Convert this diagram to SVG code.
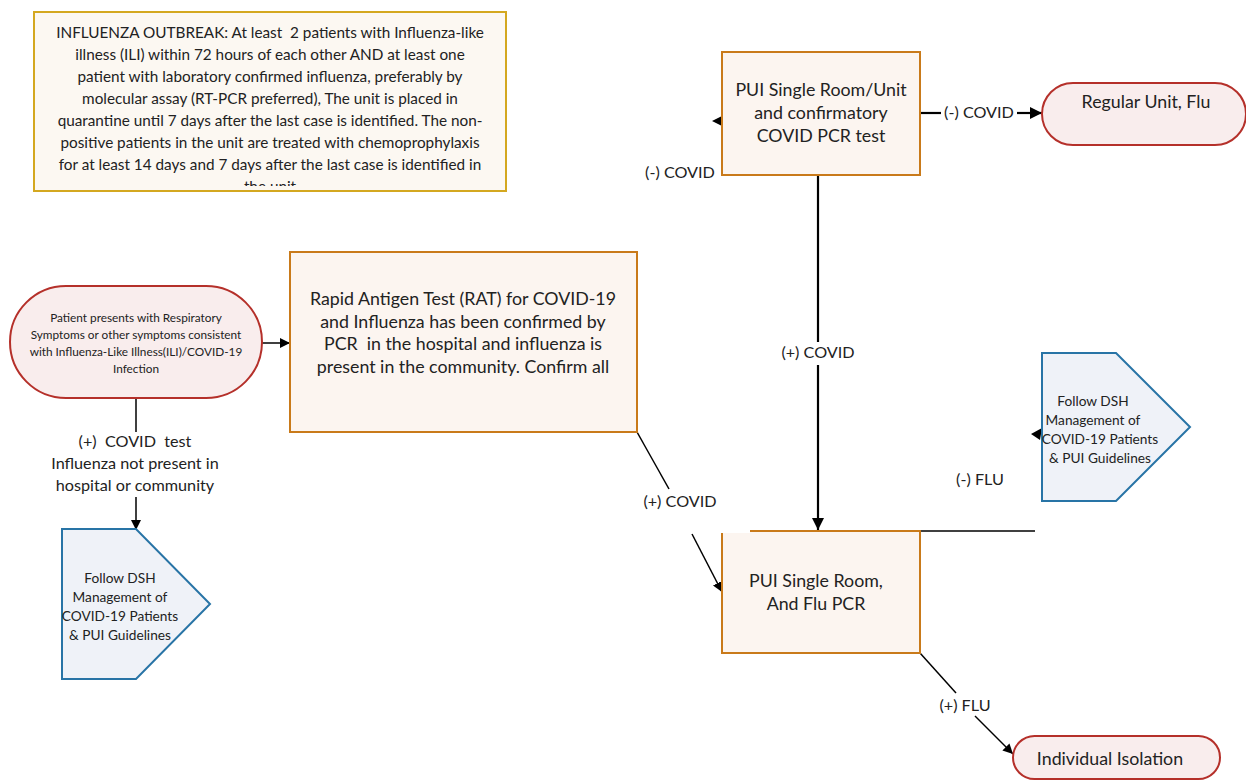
<svg xmlns="http://www.w3.org/2000/svg" width="1246" height="781" viewBox="0 0 1246 781">
<style>
text{font-family:Lato,"Liberation Sans",sans-serif;fill:#222;text-anchor:middle}
.box{fill:#fcf5f0;stroke:#c97a1a;stroke-width:2}
.term{fill:#f9eded;stroke:#b5302a;stroke-width:2}
.pent{fill:#eff2f8;stroke:#2874a6;stroke-width:2}
.note{fill:#fcf8f2;stroke:#d4a820;stroke-width:2}
.ln{stroke:#000;stroke-width:1.5;fill:none}
.lnb{stroke:#000;stroke-width:2.2;fill:none}
.t16{font-size:17.8px}.t15{font-size:16.2px}.t14{font-size:15.3px}.t13{font-size:13.7px}.t11{font-size:11.8px}
</style>
<defs>
<marker id="ah" viewBox="0 0 10 10" refX="10" refY="5" markerWidth="10" markerHeight="10" markerUnits="userSpaceOnUse" orient="auto"><path d="M0,0L10,5L0,10z" fill="#000"/></marker>
<marker id="ahb" viewBox="0 0 10 10" refX="10" refY="5" markerWidth="12" markerHeight="12" markerUnits="userSpaceOnUse" orient="auto"><path d="M0,0L10,5L0,10z" fill="#000"/></marker>
<clipPath id="nclip"><rect x="34" y="12" width="472" height="174"/></clipPath>
</defs>

<g id="connectors">
<line class="ln" x1="262" y1="343" x2="290" y2="343" marker-end="url(#ah)"/>
<line class="ln" x1="136" y1="398" x2="136" y2="432"/>
<line class="ln" x1="136" y1="497" x2="136" y2="530" marker-end="url(#ah)"/>
<line class="ln" x1="637" y1="432" x2="669" y2="489"/>
<line class="ln" x1="692" y1="534" x2="722" y2="592" marker-end="url(#ah)"/>
<line class="lnb" x1="818" y1="175" x2="818" y2="342"/>
<line class="lnb" x1="818" y1="365" x2="818" y2="530" marker-end="url(#ahb)"/>
<line class="lnb" x1="920" y1="113" x2="941" y2="113"/>
<line class="lnb" x1="1017" y1="113" x2="1042" y2="113" marker-end="url(#ahb)"/>
<path d="M712,121L722,116L722,126z" fill="#000"/>
<path d="M1031,434L1042,428L1040,440z" fill="#000"/>
<line class="ln" x1="920" y1="531" x2="1035" y2="531"/>
<line class="ln" x1="920" y1="653" x2="956" y2="693"/>
<line class="ln" x1="975" y1="716" x2="1013" y2="754" marker-end="url(#ah)"/>
<text class="t15" x="135" y="447" xml:space="preserve">(+)  COVID  test</text>
<text class="t15" x="135" y="469">Influenza not present in</text>
<text class="t15" x="135" y="491">hospital or community</text>
<text class="t15" x="680" y="507">(+) COVID</text>
<text class="t15" x="818" y="358">(+) COVID</text>
<text class="t15" x="680" y="178">(-) COVID</text>
<text class="t15" x="979" y="118">(-) COVID</text>
<text class="t15" x="980" y="485">(-) FLU</text>
<text class="t15" x="965" y="711">(+) FLU</text>
</g>

<g id="outbreak">
<rect class="note" x="34" y="12" width="472" height="179"/>
<g clip-path="url(#nclip)" class="t14">
<text x="270" y="38" xml:space="preserve">INFLUENZA OUTBREAK: At least  2 patients with Influenza-like</text>
<text x="270" y="60">illness (ILI) within 72 hours of each other AND at least one</text>
<text x="270" y="82">patient with laboratory confirmed influenza, preferably by</text>
<text x="270" y="104">molecular assay (RT-PCR preferred), The unit is placed in</text>
<text x="270" y="126">quarantine until 7 days after the last case is identified. The non-</text>
<text x="270" y="148">positive patients in the unit are treated with chemoprophylaxis</text>
<text x="270" y="170">for at least 14 days and 7 days after the last case is identified in</text>
<text x="270" y="192">the unit</text>
</g>
</g>

<g id="patient">
<rect class="term" x="10" y="286" width="252" height="112" rx="56"/>
<text class="t11" x="136" y="322">Patient presents with Respiratory</text>
<text class="t11" x="136" y="339">Symptoms or other symptoms consistent</text>
<text class="t11" x="136" y="356">with Influenza-Like Illness(ILI)/COVID-19</text>
<text class="t11" x="136" y="373">Infection</text>
</g>

<g id="rat">
<rect class="box" x="290" y="252" width="347" height="180"/>
<text class="t16" x="463" y="305">Rapid Antigen Test (RAT) for COVID-19</text>
<text class="t16" x="463" y="328">and Influenza has been confirmed by</text>
<text class="t16" x="463" y="350" xml:space="preserve">PCR  in the hospital and influenza is</text>
<text class="t16" x="463" y="373">present in the community. Confirm all</text>
</g>

<g id="dsh-left">
<path class="pent" d="M62,529H136L210,604L136,679H62z"/>
<text class="t13" x="120" y="583">Follow DSH</text>
<text class="t13" x="120" y="602">Management of</text>
<text class="t13" x="120" y="621">COVID-19 Patients</text>
<text class="t13" x="120" y="640">&amp; PUI Guidelines</text>
</g>

<g id="pui-covid">
<rect class="box" x="722" y="52" width="198" height="123"/>
<text class="t16" x="821" y="96">PUI Single Room/Unit</text>
<text class="t16" x="821" y="119">and confirmatory</text>
<text class="t16" x="821" y="142">COVID PCR test</text>
</g>

<g id="regular-unit">
<rect class="term" x="1042" y="83" width="204" height="62" rx="31"/>
<text class="t16" x="1146" y="108">Regular Unit, Flu</text>
</g>

<g id="dsh-right">
<path class="pent" d="M1042,353H1116L1190,427L1116,501H1042z"/>
<text class="t13" x="1093" y="406">Follow DSH</text>
<text class="t13" x="1093" y="425">Management of</text>
<text class="t13" x="1100" y="444">COVID-19 Patients</text>
<text class="t13" x="1100" y="463">&amp; PUI Guidelines</text>
</g>

<g id="pui-flu">
<rect class="box" x="722" y="531" width="198" height="122"/>
<rect x="718" y="520" width="32" height="13" fill="#fff"/>
<text class="t16" x="816" y="587">PUI Single Room,</text>
<text class="t16" x="816" y="610">And Flu PCR</text>
</g>

<g id="isolation">
<rect class="term" x="1013" y="736" width="207" height="43" rx="21.5"/>
<text class="t16" x="1110" y="765">Individual Isolation</text>
</g>
</svg>
